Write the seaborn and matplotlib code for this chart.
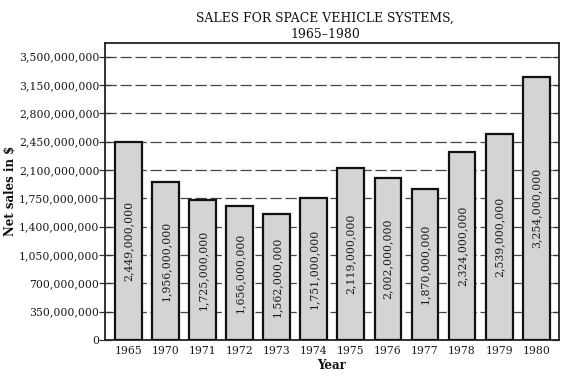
import matplotlib
matplotlib.use("Agg")
import matplotlib.pyplot as plt
import matplotlib.lines as mlines
import seaborn as sns
import pandas as pd
from matplotlib.ticker import FuncFormatter, FixedLocator

years = ["1965", "1970", "1971", "1972", "1973", "1974", "1975", "1976", "1977", "1978", "1979", "1980"]
sales = [2449000000, 1956000000, 1725000000, 1656000000, 1562000000, 1751000000,
         2119000000, 2002000000, 1870000000, 2324000000, 2539000000, 3254000000]
yticks = [0, 350000000, 700000000, 1050000000, 1400000000, 1750000000, 2100000000,
          2450000000, 2800000000, 3150000000, 3500000000]
title = "SALES FOR SPACE VEHICLE SYSTEMS,\n1965\u20131980"

df = pd.DataFrame({"Year": years, "Sales": sales})

sns.set_style("white")
plt.rcParams["font.family"] = ["DejaVu Serif"]

fig = plt.figure(figsize=(5.78, 3.81), dpi=100)
ax = fig.add_axes([105 / 578, 1 - 340 / 381, (558.5 - 105) / 578, (340 - 42.7) / 381])

sns.barplot(data=df, x="Year", y="Sales", ax=ax, color="#d4d4d4", saturation=1,
            edgecolor="#111111", linewidth=1.6, width=0.72, zorder=3)

ax.set_ylim(0, 3672000000)
ax.set_xlim(-0.63, 11.6)
ax.yaxis.set_major_locator(FixedLocator(yticks))
ax.yaxis.set_major_formatter(FuncFormatter(lambda v, p: f"{int(v):,}"))

ax.set_axisbelow(True)
ax.grid(axis="y", color="#444444", linewidth=0.9, linestyle=(0, (9, 3)), zorder=0)
ax.grid(axis="x", visible=False)

for s in ax.spines.values():
    s.set_visible(True)
    s.set_color("#222222")
    s.set_linewidth(1.3)

ax.tick_params(axis="y", which="major", left=True, right=True, direction="inout",
               length=8, width=0.9, color="#333333", labelsize=7.8, pad=0,
               labelcolor="#1a1a1a")
ax.tick_params(axis="x", bottom=False, labelsize=7.8, pad=1, labelcolor="#1a1a1a")

for i, v in enumerate(sales):
    ax.text(i, v / 2, f"{v:,}", rotation=90, ha="center", va="center",
            fontsize=7.8, color="#1a1a1a", zorder=5)

ax.set_xlabel("Year", fontsize=8.5, fontweight="bold", labelpad=2, color="#111111")
ax.set_ylabel("Net sales in $", fontsize=8.5, fontweight="bold", color="#111111")
ax.yaxis.set_label_coords(-88 / 453.5, 0.5)

for t in ax.yaxis.get_major_ticks():
    t.tick2line.set_marker(mlines.TICKLEFT)
    t.tick2line.set_markersize(5)

fig.text(325 / 578, 1 - 26.5 / 381, title, ha="center", va="center", fontsize=8.9,
         linespacing=1.3, color="#111111")

fig.savefig("out.png", dpi=100)
